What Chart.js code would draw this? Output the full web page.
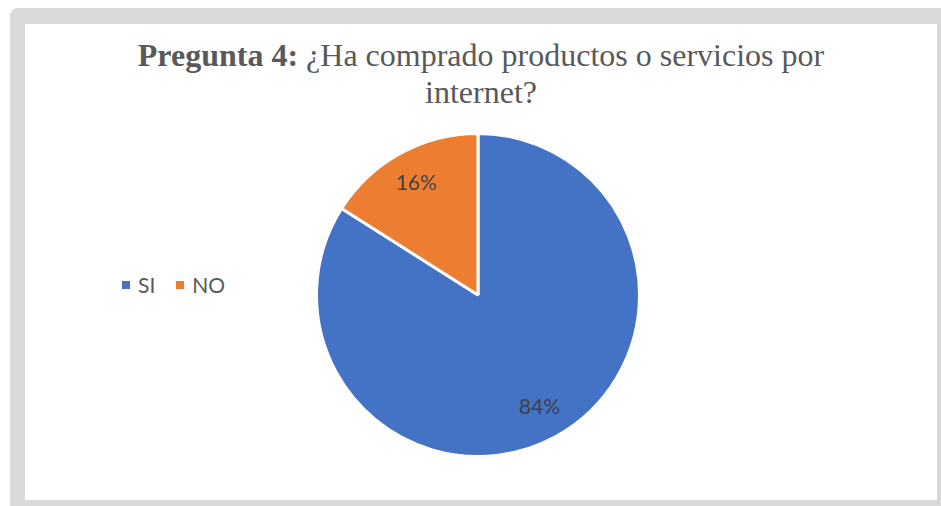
<!DOCTYPE html>
<html>
<head>
<meta charset="utf-8">
<script src="https://cdn.jsdelivr.net/npm/chart.js@4"></script>
<style>
  html, body { margin: 0; padding: 0; width: 941px; height: 506px; background: #fff; overflow: hidden; }
  .frame { position: absolute; left: 10px; top: 8px; width: 960px; height: 520px; background: #d9d9d9; border-radius: 8px; }
  .panel { position: absolute; left: 25px; top: 24px; width: 912px; height: 476px; background: #fff; }
  .title { position: absolute; left: 0; top: 37px; width: 962px; text-align: center; font-family: "Liberation Serif", serif; font-size: 32px; line-height: 37px; color: #595959; }
  .legend { position: absolute; left: 122px; top: 272px; font-family: Lato, "Open Sans", sans-serif; font-size: 21px; color: #595959; display: flex; }
  .legend span.item { display: flex; align-items: center; margin-right: 21px; }
  .legend span.box { width: 8px; height: 8px; margin-right: 8px; display: inline-block; }
  .pie { position: absolute; left: 315px; top: 132px; width: 326px; height: 326px; }
</style>
</head>
<body>
<div class="frame"></div>
<div class="panel"></div>
<div class="title"><b>Pregunta 4:</b> ¿Ha comprado productos o servicios por<br>internet?</div>
<div class="legend" id="legend"></div>
<div class="pie"><canvas id="chart"></canvas></div>
<script>
  const categories = ['SI', 'NO'];
  const values = [84, 16];
  const colors = ['#4472c4', '#ed7d31'];

  // legend like the excel one, items side by side
  const legend = document.getElementById('legend');
  categories.forEach((c, i) => {
    const item = document.createElement('span');
    item.className = 'item';
    item.innerHTML = '<span class="box" style="background:' + colors[i] + '"></span>' + c;
    legend.appendChild(item);
  });

  const pctLabels = {
    id: 'pctLabels',
    afterDatasetsDraw(chart) {
      const ctx = chart.ctx;
      const meta = chart.getDatasetMeta(0);
      const total = values.reduce((a, b) => a + b, 0);
      ctx.save();
      ctx.font = '21px Lato, "Open Sans", sans-serif';
      ctx.fillStyle = '#404040';
      ctx.textAlign = 'center';
      ctx.textBaseline = 'middle';
      meta.data.forEach((arc, i) => {
        const mid = (arc.startAngle + arc.endAngle) / 2;
        const r = arc.outerRadius * 0.79;
        const x = arc.x + Math.cos(mid) * r;
        const y = arc.y + Math.sin(mid) * r;
        ctx.fillText(Math.round(values[i] / total * 100) + '%', x, y);
      });
      ctx.restore();
    }
  };

  new Chart(document.getElementById('chart'), {
    type: 'pie',
    data: {
      labels: categories,
      datasets: [{
        data: values,
        backgroundColor: colors,
        borderColor: '#ffffff',
        borderWidth: 3
      }]
    },
    options: {
      responsive: true,
      maintainAspectRatio: false,
      animation: false,
      layout: { padding: 0 },
      plugins: {
        legend: { display: false },
        tooltip: { enabled: false },
        title: { display: false }
      }
    },
    plugins: [pctLabels]
  });
</script>
</body>
</html>
